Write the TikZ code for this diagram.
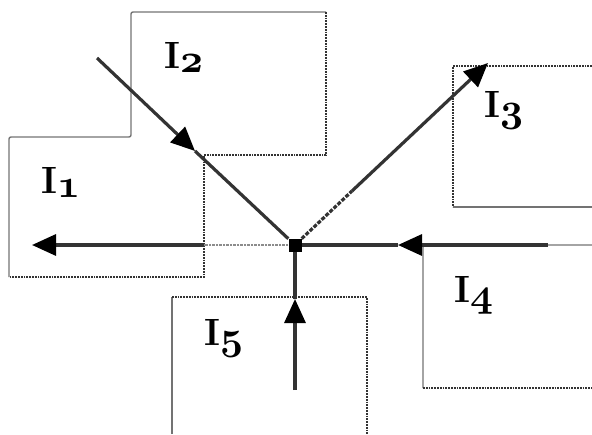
\RequirePackage{fix-cm}
\documentclass[tikz,border=0pt]{standalone}
\usetikzlibrary{arrows.meta}
\newcommand{\Ireg}[1]{\textbf{I}\raisebox{-4pt}{\fontsize{40}{44}\selectfont$\oldstylenums{#1}$}}
\begin{document}
\begin{tikzpicture}[x=1pt, y=-1pt,
  edge/.style={draw=black!55, line width=1.4pt, rounded corners=2pt},
  dotedge/.style={draw=black!80, line width=1.8pt, densely dotted},
  ray/.style={draw=black!80, line width=3.2pt},
  faint/.style={draw=black!45, line width=2.5pt, densely dotted},
  beaded/.style={draw=black!80, line width=3.2pt, dash pattern=on 4pt off 1.5pt},
  tip/.style={-{Triangle[length=24pt,width=21pt,black]}},
  lbl/.style={font=\fontsize{38}{44}\selectfont\boldmath, inner sep=0pt, anchor=base west},
  junction/.style={fill=black, minimum size=13pt, inner sep=0pt}
]
\useasboundingbox (0,0) rectangle (592,434);
% regions
\draw[edge] (9,277) -- (9,137) -- (131,137) -- (131,12) -- (326,12);
\draw[dotedge] (326,12) -- (326,155) -- (204,155) -- (204,277) -- (9,277);
\draw[dotedge] (592,66) -- (453,66) -- (453,207);
\draw[edge] (453,207) -- (592,207);
\draw[edge] (592,245) -- (423,245) -- (423,388);
\draw[dotedge] (423,388) -- (592,388);
\draw[edge] (172,434) -- (172,297);
\draw[dotedge] (172,297) -- (367,297) -- (367,434);
% rays
\node[junction] (j) at (295,245) {};
\coordinate (s2) at (97,58);
\coordinate (m2) at (195,151);
\coordinate (s4) at (548,245);
\coordinate (m4) at (398,245);
\coordinate (s5) at (295,390);
\coordinate (m5) at (295,299);
\coordinate (b1) at (204,245);
\coordinate (a1) at (32,245);
\coordinate (b3) at (352,191);
\coordinate (a3) at (488,63);
\draw[ray, tip] (s2) -- (m2);
\draw[ray] (m2) -- (j);
\draw[ray, tip] (s4) -- (m4);
\draw[ray] (m4) -- (j);
\draw[ray, tip] (s5) -- (m5);
\draw[ray] (m5) -- (j);
\draw[faint] (j) -- (b1);
\draw[ray, tip] (b1) -- (a1);
\draw[beaded] (j) -- (b3);
\draw[ray, tip] (b3) -- (a3);
\node[junction] at (j) {};
% labels
\node[lbl] (l1) at (41,193) {\Ireg{1}};
\node[lbl] (l2) at (164,68) {\Ireg{2}};
\node[lbl] (l3) at (484,117) {\Ireg{3}};
\node[lbl] (l4) at (454,302) {\Ireg{4}};
\node[lbl] (l5) at (204,345) {\Ireg{5}};
\end{tikzpicture}
\end{document}
